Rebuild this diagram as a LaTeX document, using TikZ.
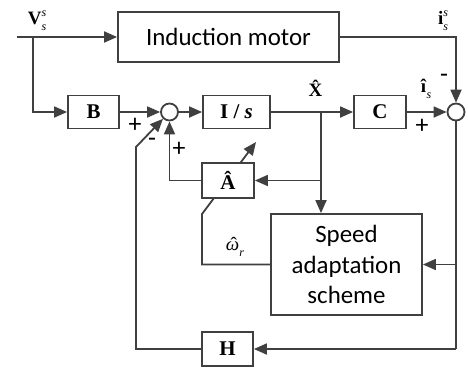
\documentclass[tikz,border=0pt]{standalone}
\usepackage{fontspec}
\setmainfont{Liberation Serif}
\newfontfamily\carl{Carlito}
\usetikzlibrary{arrows.meta}
\definecolor{ln}{HTML}{404040}
\newcommand\smallit[1]{{\fontsize{12}{12}\selectfont\textit{#1}}}
\newcommand\supsub[3]{#1\rlap{\raisebox{0.42em}{\smallit{#2}}}\raisebox{-0.3em}{\smallit{#3}}}
\newcommand\subonly[2]{#1\raisebox{-0.3em}{\smallit{#2}}}
\newcommand\hatomega{\leavevmode\setbox0\hbox{\textit{ω}}\rlap{\hbox to\wd0{\hss\kern2bp ˆ\hss}}\box0}
\tikzset{
  wire/.style={draw=ln, line width=1.8bp},
  arr/.style={wire, -{Triangle[length=13bp,width=11bp]}},
  blk/.style={draw=ln, line width=1.8bp, fill=white, inner sep=0pt, font=\fontsize{21}{24}\selectfont\bfseries},
  sum/.style={circle, draw=ln, line width=1.8bp, fill=white, minimum size=17bp, inner sep=0pt},
  lab/.style={inner sep=0pt, font=\fontsize{19}{22}\selectfont},
  sgn/.style={inner sep=0pt, font=\carl\fontsize{26}{28}\selectfont},
  big/.style={draw=ln, line width=1.8bp, fill=white, inner sep=0pt, align=center, font=\carl\fontsize{25}{31}\selectfont}
}
\begin{document}
\begin{tikzpicture}[x=1bp,y=-1bp]
\useasboundingbox (0,0) rectangle (468,373);
% blocks
\node[big, minimum width=221bp, minimum height=50bp] (motor) at (228.5,37) {Induction motor};
\node[blk, minimum width=51bp, minimum height=33bp] (B) at (93.5,112) {B};
\node[sum] (s1) at (169.5,112) {};
\node[blk, minimum width=67bp, minimum height=33bp] (Is) at (236.5,112) {I / \textit{s}};
\node[blk, minimum width=52bp, minimum height=33bp] (C) at (380,112) {C};
\node[sum] (s2) at (456,112) {};
\node[big, minimum width=151bp, minimum height=101bp] (speed) at (346.5,264.5) {Speed\\adaptation\\scheme};
\node[blk, minimum width=51bp, minimum height=34bp] (H) at (227.5,349) {H};
% adaptation line through A-hat
\coordinate (wa) at (202,264.5);
\coordinate (wb) at (202,214);
\coordinate (wc) at (256,142);
\draw[arr] (speed.west) -- (wa) -- (wb) -- (wc);
\node[blk, minimum width=52bp, minimum height=35bp] (A) at (228,180.5) {\^{A}};
% coordinates
\coordinate (in) at (17,37);
\coordinate (vb) at (33,37);
\coordinate (xb) at (321,112);
\coordinate (xa) at (321,180.5);
\coordinate (rb) at (456,349);
\coordinate (rs) at (456,264.5);
\coordinate (hl) at (136,349);
\coordinate (hu) at (136,147);
% connectors
\draw[arr] (in) -- (motor.west);
\draw[arr] (vb) |- (B.west);
\draw[arr] (B) -- (s1);
\draw[arr] (s1) -- (Is);
\draw[arr] (Is) -- (C);
\draw[arr] (xb) -- (xb |- speed.north);
\draw[arr] (xa) -- (A.east);
\draw[arr] (A.west) -| (s1.south);
\draw[arr] (C) -- (s2);
\draw[arr] (motor.east) -| (s2.north);
\draw[wire] (s2.south) -- (rb);
\draw[arr] (rs) -- (speed.east);
\draw[arr] (rb) -- (H.east);
\draw[arr] (H.west) -- (hl) -- (hu) -- (s1);
% labels
\node[lab] (lv) at (37,21) {\supsub{\textbf{V}}{s}{s}};
\node[lab] (li) at (443,21) {\supsub{\textbf{i}}{s}{s}};
\node[lab] (lx) at (317,88) {\textbf{\^{X}}};
\node[lab] (lis) at (426,89) {\subonly{\textbf{\^{\i}}}{s}};
\node[lab] (lw) at (235,247) {\subonly{\hatomega}{r}};
\node[sgn] (p1) at (135,125) {+};
\node[sgn] (m1) at (152,142) {-};
\node[sgn] (p2) at (179,149) {+};
\node[sgn] (p3) at (422,126) {+};
\node[sgn] (m2) at (444,78) {-};
\end{tikzpicture}
\end{document}
